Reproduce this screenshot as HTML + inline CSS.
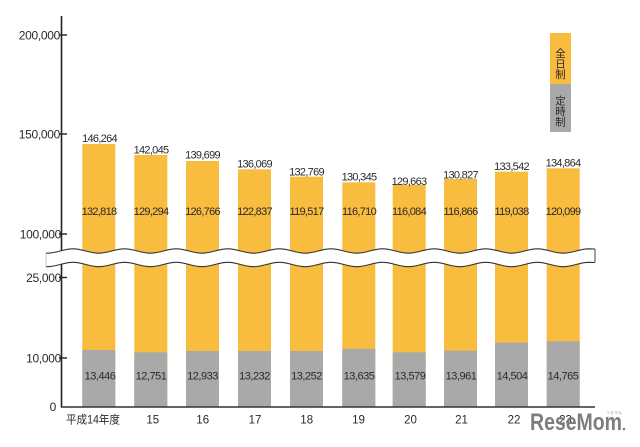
<!DOCTYPE html>
<html><head><meta charset="utf-8"><style>
html,body{margin:0;padding:0;background:#fff;}
svg{display:block;}
text{font-family:"Liberation Sans","Noto Sans CJK JP",sans-serif;fill:#2a2a2a;}
.n{font-size:11px;letter-spacing:-0.7px;text-anchor:middle;}
.g{font-size:11px;letter-spacing:-0.5px;text-anchor:middle;}
.y{font-size:12px;letter-spacing:-0.3px;text-anchor:end;}
.x{font-size:11.5px;text-anchor:middle;}
.l{font-size:10.5px;text-anchor:middle;font-family:"Noto Sans CJK JP",sans-serif;}
</style></head><body>
<svg width="640" height="447" viewBox="0 0 640 447" xmlns="http://www.w3.org/2000/svg">
<rect width="640" height="447" fill="#fff"/>
<!-- bars -->
<g fill="#F8BC3E">
<rect x="82.3" y="144" width="33" height="262.5"/>
<rect x="134.3" y="155" width="33" height="251.5"/>
<rect x="186" y="161" width="33" height="245.5"/>
<rect x="238" y="169.3" width="33" height="237.2"/>
<rect x="290" y="176.7" width="33" height="229.8"/>
<rect x="342.3" y="182.3" width="33" height="224.2"/>
<rect x="392.7" y="185" width="33" height="221.5"/>
<rect x="444" y="179" width="33" height="227.5"/>
<rect x="495" y="171.7" width="33" height="234.8"/>
<rect x="546.7" y="168.3" width="33" height="238.2"/>
</g>
<g fill="#A9A9A9">
<rect x="82.3" y="350" width="33" height="56.5"/>
<rect x="134.3" y="352.3" width="33" height="54.2"/>
<rect x="186" y="351" width="33" height="55.5"/>
<rect x="238" y="351" width="33" height="55.5"/>
<rect x="290" y="351" width="33" height="55.5"/>
<rect x="342.3" y="348.7" width="33" height="57.8"/>
<rect x="392.7" y="352.3" width="33" height="54.2"/>
<rect x="444" y="350.7" width="33" height="55.8"/>
<rect x="495" y="342.7" width="33" height="63.8"/>
<rect x="546.7" y="341.3" width="33" height="65.2"/>
</g>
<!-- axes -->
<line x1="61.5" y1="16" x2="61.5" y2="407.5" stroke="#222" stroke-width="1.6"/>
<line x1="61" y1="407" x2="595" y2="407" stroke="#333" stroke-width="1.5"/>
<g stroke="#222" stroke-width="1.4">
<line x1="59" y1="35" x2="67" y2="35"/>
<line x1="59" y1="134" x2="67" y2="134"/>
<line x1="59" y1="234" x2="67" y2="234"/>
<line x1="59" y1="277.5" x2="67" y2="277.5"/>
<line x1="59" y1="358" x2="67" y2="358"/>
</g>
<!-- break band -->
<g fill="none">
<path transform="translate(0,6.75)" stroke="#fff" stroke-width="13.2" d="M46,253.2 L47.2,253.2 C56.58,253.2 63.62,248.8 73,248.8 S89.42,253.2 98.8,253.2 S115.22,248.8 124.6,248.8 S141.02,253.2 150.4,253.2 S166.82,248.8 176.2,248.8 S192.62,253.2 202,253.2 S218.42,248.8 227.8,248.8 S244.22,253.2 253.6,253.2 S270.02,248.8 279.4,248.8 S295.82,253.2 305.2,253.2 S321.62,248.8 331,248.8 S347.42,253.2 356.8,253.2 S373.22,248.8 382.6,248.8 S399.02,253.2 408.4,253.2 S424.82,248.8 434.2,248.8 S450.62,253.2 460,253.2 S476.42,248.8 485.8,248.8 S502.22,253.2 511.6,253.2 S528.02,248.8 537.4,248.8 S553.82,253.2 563.2,253.2 S579.62,248.8 589,248.8 L595,249"/>
<path stroke="#333" stroke-width="1.1" d="M46,253.2 L47.2,253.2 C56.58,253.2 63.62,248.8 73,248.8 S89.42,253.2 98.8,253.2 S115.22,248.8 124.6,248.8 S141.02,253.2 150.4,253.2 S166.82,248.8 176.2,248.8 S192.62,253.2 202,253.2 S218.42,248.8 227.8,248.8 S244.22,253.2 253.6,253.2 S270.02,248.8 279.4,248.8 S295.82,253.2 305.2,253.2 S321.62,248.8 331,248.8 S347.42,253.2 356.8,253.2 S373.22,248.8 382.6,248.8 S399.02,253.2 408.4,253.2 S424.82,248.8 434.2,248.8 S450.62,253.2 460,253.2 S476.42,248.8 485.8,248.8 S502.22,253.2 511.6,253.2 S528.02,248.8 537.4,248.8 S553.82,253.2 563.2,253.2 S579.62,248.8 589,248.8 L595,249"/>
<path transform="translate(0,13.5)" stroke="#333" stroke-width="1.1" d="M46,253.2 L47.2,253.2 C56.58,253.2 63.62,248.8 73,248.8 S89.42,253.2 98.8,253.2 S115.22,248.8 124.6,248.8 S141.02,253.2 150.4,253.2 S166.82,248.8 176.2,248.8 S192.62,253.2 202,253.2 S218.42,248.8 227.8,248.8 S244.22,253.2 253.6,253.2 S270.02,248.8 279.4,248.8 S295.82,253.2 305.2,253.2 S321.62,248.8 331,248.8 S347.42,253.2 356.8,253.2 S373.22,248.8 382.6,248.8 S399.02,253.2 408.4,253.2 S424.82,248.8 434.2,248.8 S450.62,253.2 460,253.2 S476.42,248.8 485.8,248.8 S502.22,253.2 511.6,253.2 S528.02,248.8 537.4,248.8 S553.82,253.2 563.2,253.2 S579.62,248.8 589,248.8 L595,249"/>
<line x1="46" y1="253.2" x2="46" y2="266.7" stroke="#c4c4c4" stroke-width="1"/>
<line x1="595" y1="249" x2="595" y2="262.5" stroke="#444" stroke-width="1"/>
</g>
<!-- y labels -->
<text class="y" x="60" y="39.3">200,000</text>
<text class="y" x="60" y="138.3">150,000</text>
<text class="y" x="61" y="238.3">100,000</text>
<text class="y" x="61" y="281.8">25,000</text>
<text class="y" x="61" y="362.3">10,000</text>
<text class="y" x="56" y="411">0</text>
<!-- totals -->
<text class="n" x="99.5" y="142">146,264</text>
<text class="n" x="151" y="153.5">142,045</text>
<text class="n" x="202.5" y="158.7">139,699</text>
<text class="n" x="254.5" y="167.7">136,069</text>
<text class="n" x="306.5" y="175.3">132,769</text>
<text class="n" x="359" y="180.7">130,345</text>
<text class="n" x="409" y="185">129,663</text>
<text class="n" x="460.5" y="178.3">130,827</text>
<text class="n" x="511.5" y="170">133,542</text>
<text class="n" x="563" y="166.3">134,864</text>
<!-- full-time -->
<text class="n" x="99" y="215">132,818</text>
<text class="n" x="151" y="215">129,294</text>
<text class="n" x="202.5" y="215">126,766</text>
<text class="n" x="254.5" y="215">122,837</text>
<text class="n" x="306.5" y="215">119,517</text>
<text class="n" x="359" y="215">116,710</text>
<text class="n" x="409" y="215">116,084</text>
<text class="n" x="460.5" y="215">116,866</text>
<text class="n" x="511.5" y="215">119,038</text>
<text class="n" x="563" y="215">120,099</text>
<!-- part-time -->
<text class="g" x="100" y="379.5">13,446</text>
<text class="g" x="151" y="379.5">12,751</text>
<text class="g" x="202.5" y="379.5">12,933</text>
<text class="g" x="254.5" y="379.5">13,232</text>
<text class="g" x="306.5" y="379.5">13,252</text>
<text class="g" x="359" y="379.5">13,635</text>
<text class="g" x="410" y="379.5">13,579</text>
<text class="g" x="461" y="379.5">13,961</text>
<text class="g" x="512" y="379.5">14,504</text>
<text class="g" x="563" y="379.5">14,765</text>
<!-- x labels -->
<text x="66" y="423.5" style="font-size:11.5px" textLength="54" lengthAdjust="spacingAndGlyphs">平成14年度</text>
<text class="x" x="152.8" y="423.5">15</text>
<text class="x" x="202.7" y="423.5">16</text>
<text class="x" x="255" y="423.5">17</text>
<text class="x" x="306.7" y="423.5">18</text>
<text class="x" x="358.5" y="423.5">19</text>
<text class="x" x="410.5" y="423.5">20</text>
<text class="x" x="461.5" y="423.5">21</text>
<text class="x" x="514" y="423.5">22</text>
<text class="x" x="565.5" y="423.5">23</text>
<!-- legend -->
<rect x="550" y="33" width="21" height="51" fill="#F8BC3E"/>
<rect x="550" y="84" width="21" height="48" fill="#A9A9A9"/>
<text class="l" x="560.5" y="57">全</text>
<text class="l" x="560.5" y="67.5">日</text>
<text class="l" x="560.5" y="78">制</text>
<text class="l" x="560.5" y="104.5">定</text>
<text class="l" x="560.5" y="115">時</text>
<text class="l" x="560.5" y="125.5">制</text>
<!-- watermark -->
<text x="530" y="430" style="font-size:24px;font-weight:bold;fill:#7d7d7d" textLength="92" lengthAdjust="spacingAndGlyphs">ReseMom</text>
<circle cx="624" cy="429" r="1.3" fill="#7d7d7d"/>
<text x="606" y="414" style="font-size:4px;fill:#999" font-family="Noto Sans CJK JP">リセマム</text>
</svg>
</body></html>
